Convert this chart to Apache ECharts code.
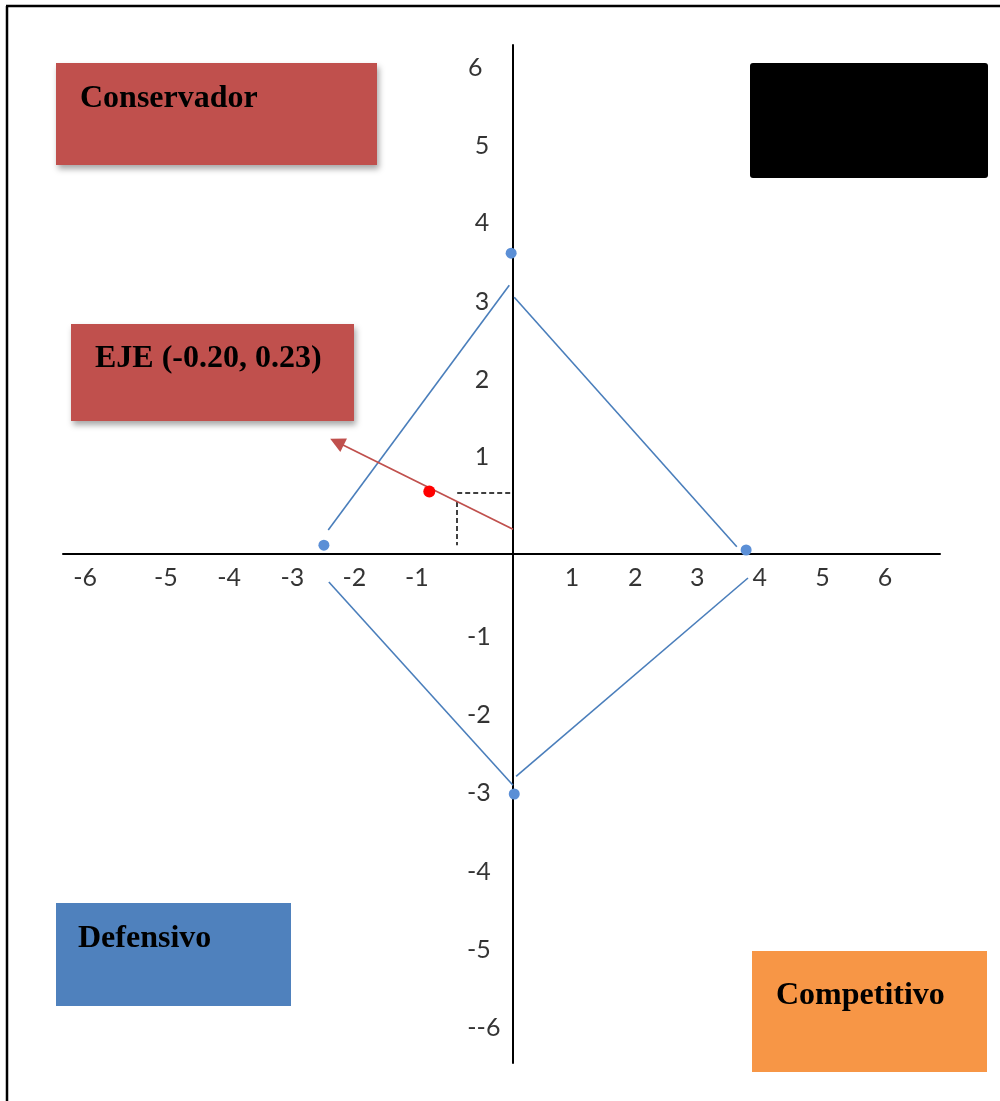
<!DOCTYPE html>
<html><head><meta charset="utf-8">
<script src="https://cdn.jsdelivr.net/npm/echarts@6/dist/echarts.min.js"></script>
<style>html,body{margin:0;padding:0;background:#fff}#c{width:1000px;height:1101px}</style>
</head><body><div id="c"></div>
<script>
// ---- data ----
const vertexPoints = [[-0.03, 3.76], [-3.05, 0.11], [3.76, 0.05], [0.02, -3.0]];
const segments = [
  [[-2.98, 0.30], [-0.06, 3.36]],
  [[0.02, 3.21], [3.61, 0.09]],
  [[-2.97, -0.35], [0.0, -2.89]],
  [[0.05, -2.78], [3.79, -0.30]]
];
const axisVector = [[0, 0.31], [-2.84, 1.40]];
const ejePoint = [[-1.35, 0.78]];
const dashedGuides = [
  [[-0.90, 0.76], [-0.03, 0.76]],
  [[-0.90, 0.65], [-0.90, 0.11]]
];
const xTickLabels = ['-6', '-5', '-4', '-3', '-2', '-1', '1', '2', '3', '4', '5', '6'];
const xTickPos = [-6.90, -5.60, -4.58, -3.56, -2.56, -1.55, 0.95, 1.97, 2.97, 3.98, 4.99, 6.0];
const xTickRow = -0.30;
const yTickLabels = ['6', '5', '4', '3', '2', '1', '-1', '-2', '-3', '-4', '-5', '--6'];
const yTickPos = [6.08, 5.10, 4.14, 3.15, 2.18, 1.21, -1.04, -2.01, -2.99, -3.98, -4.95, -5.93];
const yTickCol = [-0.61, -0.50, -0.50, -0.50, -0.50, -0.50, -0.55, -0.55, -0.55, -0.55, -0.55, -0.47];
const quadrantLabels = ['Conservador', 'EJE (-0.20, 0.23)', 'Defensivo', 'Competitivo'];

// ---- chart ----
const chart = echarts.init(document.getElementById('c'), null, {renderer: 'canvas'});
const tickFont = {fontFamily: 'Lato', fontSize: 25, color: '#000'};
const boxFont = 'bold 32px "Liberation Serif", "Times New Roman", serif';

const xLabelData = xTickLabels.map((t, i) => ({value: [xTickPos[i], xTickRow], name: t}));
const yLabelData = yTickLabels.map((t, i) => ({value: [yTickCol[i], yTickPos[i]], name: t}));

function box(x, y, w, h, fill, shadow, radius) {
  return {
    type: 'rect', shape: {x: x, y: y, width: w, height: h, r: radius || 0},
    style: Object.assign({fill: fill}, shadow ? {shadowBlur: 6, shadowOffsetX: 2, shadowOffsetY: 4, shadowColor: 'rgba(0,0,0,0.35)'} : {}),
    z: 10
  };
}
function txt(x, y, t) {
  return {type: 'text', x: x, y: y, style: {text: t, font: boxFont, fill: '#000', verticalAlign: 'middle', align: 'left'}, z: 11};
}

chart.setOption({
  animation: false,
  backgroundColor: '#fff',
  grid: {left: 63, right: 60, top: 45, bottom: 38, containLabel: false},
  xAxis: {
    type: 'value', min: -7.258, max: 6.887,
    axisLine: {show: true, onZero: true, lineStyle: {color: '#000', width: 2}},
    axisTick: {show: false}, axisLabel: {show: false}, splitLine: {show: false}
  },
  yAxis: {
    type: 'value', min: -6.3625, max: 6.3625,
    axisLine: {show: true, onZero: true, lineStyle: {color: '#000', width: 2}},
    axisTick: {show: false}, axisLabel: {show: false}, splitLine: {show: false}
  },
  graphic: [
    {type: 'line', shape: {x1: 7, y1: 6, x2: 7, y2: 1101}, style: {stroke: '#000', lineWidth: 2.5}, z: 5},
    {type: 'line', shape: {x1: 6, y1: 6, x2: 1000, y2: 6}, style: {stroke: '#000', lineWidth: 2.5}, z: 5},
    box(56, 63, 321, 102, '#c0504d', true),
    txt(80, 99, quadrantLabels[0]),
    box(750, 63, 238, 115, '#000000', false, 3),
    box(71, 324, 283, 97, '#c0504d', true),
    txt(95, 359, quadrantLabels[1]),
    box(56, 903, 235, 103, '#4f81bd', false),
    txt(78, 939, quadrantLabels[2]),
    box(752, 951, 235, 121, '#f79646', false),
    txt(776, 996, quadrantLabels[3])
  ],
  series: [
    {
      type: 'lines', coordinateSystem: 'cartesian2d', silent: true,
      lineStyle: {color: '#4a7ebb', width: 1.6, opacity: 1},
      data: segments.map(s => ({coords: s}))
    },
    {
      type: 'lines', coordinateSystem: 'cartesian2d', silent: true,
      lineStyle: {color: '#000', width: 1.5, type: [5, 3], opacity: 1},
      data: dashedGuides.map(s => ({coords: s}))
    },
    {
      type: 'lines', coordinateSystem: 'cartesian2d', silent: true,
      symbol: ['none', 'triangle'], symbolSize: [0, 15],
      lineStyle: {color: '#c0504d', width: 1.8, opacity: 1},
      data: [{coords: axisVector}]
    },
    {
      type: 'scatter', silent: true, symbolSize: 11,
      itemStyle: {color: '#5b8fd6', opacity: 1}, data: vertexPoints
    },
    {
      type: 'scatter', silent: true, symbolSize: 12,
      itemStyle: {color: '#ff0000', opacity: 1}, data: ejePoint
    },
    {
      type: 'scatter', silent: true, symbolSize: 0, data: xLabelData,
      label: Object.assign({show: true, position: 'inside', formatter: p => p.name}, tickFont)
    },
    {
      type: 'scatter', silent: true, symbolSize: 0, data: yLabelData,
      label: Object.assign({show: true, position: 'inside', formatter: p => p.name}, tickFont)
    }
  ]
});
</script></body></html>
